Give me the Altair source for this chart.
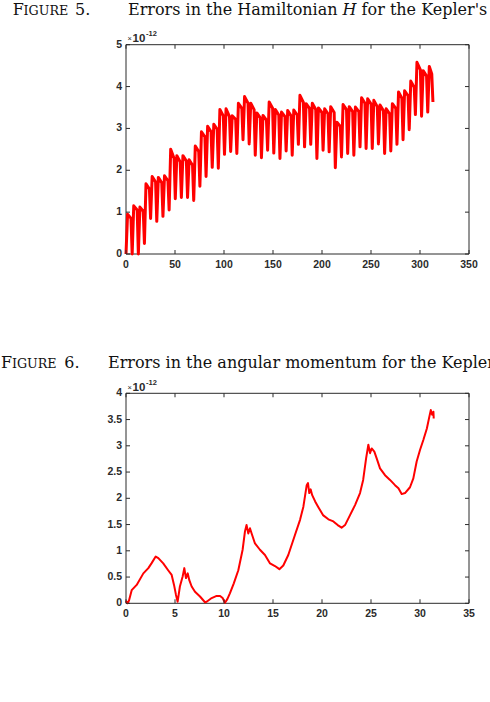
import altair as alt
import pandas as pd

# ---------------- Figure 5: error in the Hamiltonian H ----------------
# times of the sharp minima (one per orbit), first and last sample included
orbit_dip_t = [0.0, 6.3, 12.6, 18.8, 25.1, 31.4, 37.7, 44.0, 50.3, 56.5, 62.8,
               69.1, 75.4, 81.7, 88.0, 94.2, 100.5, 106.8, 113.1, 119.4, 125.7,
               131.9, 138.2, 144.5, 150.8, 157.1, 163.4, 169.6, 175.9, 182.2, 188.5,
               194.8, 201.1, 207.3, 213.6, 219.9, 226.2, 232.5, 238.8, 245.0, 251.3,
               257.6, 263.9, 270.2, 276.5, 282.7, 289.0, 295.3, 301.6, 307.9, 313.2]
# error (units of 1e-12) at each minimum
ham_dip = [0.0, 0.0, 0.0, 0.25, 0.85, 0.78, 0.90, 1.05, 1.32, 1.35, 1.35,
           1.28, 1.62, 1.85, 2.07, 2.05, 2.38, 2.45, 2.40, 2.73, 2.63,
           2.36, 2.30, 2.48, 2.41, 2.28, 2.46, 2.36, 2.62, 2.56, 2.62,
           2.28, 2.48, 2.44, 2.06, 2.32, 2.40, 2.36, 2.56, 2.52, 2.52,
           2.63, 2.40, 2.46, 2.62, 2.73, 2.97, 3.33, 3.29, 3.39, 3.63]
# crest reached just after each minimum
ham_peak = [0.95, 1.15, 1.12, 1.68, 1.85, 1.83, 1.87, 2.50, 2.35, 2.35,
            2.25, 2.58, 2.92, 3.05, 3.10, 3.45, 3.47, 3.30, 3.60, 3.76,
            3.60, 3.37, 3.31, 3.63, 3.45, 3.39, 3.43, 3.44, 3.79, 3.59,
            3.60, 3.49, 3.47, 3.52, 3.15, 3.57, 3.52, 3.51, 3.73, 3.71,
            3.67, 3.56, 3.47, 3.59, 3.87, 3.90, 4.13, 4.58, 4.38, 4.48]
# level just before the next drop
ham_shoulder = [0.85, 1.05, 1.02, 1.55, 1.72, 1.70, 1.75, 2.28, 2.20, 2.22,
                2.12, 2.45, 2.80, 2.92, 2.98, 3.30, 3.28, 3.22, 3.48, 3.60,
                3.45, 3.25, 3.20, 3.48, 3.32, 3.28, 3.30, 3.32, 3.62, 3.48,
                3.45, 3.38, 3.35, 3.38, 3.05, 3.45, 3.40, 3.40, 3.60, 3.58,
                3.52, 3.42, 3.35, 3.48, 3.72, 3.78, 3.98, 4.40, 4.25, 4.30]

ham_xticks = [0, 50, 100, 150, 200, 250, 300, 350]
ham_yticks = [0, 1, 2, 3, 4, 5]

# ---------------- Figure 6: error in the angular momentum ----------------
mom_t = [0.0, 0.15, 0.3, 0.58, 1.09, 1.77, 2.28, 2.6, 3.03, 3.3,
         3.8, 4.3, 4.66, 4.9, 5.1, 5.27, 5.5, 5.78, 5.95, 6.12,
         6.3, 6.46, 6.7, 7.04, 7.55, 8.06, 8.23, 8.74, 9.25, 9.6,
         9.86, 10.1, 10.34, 10.6, 11.0, 11.46, 11.9, 12.14, 12.3, 12.48,
         12.65, 12.82, 13.16, 13.67, 14.18, 14.7, 15.2, 15.65, 16.05, 16.56,
         17.24, 17.76, 18.1, 18.44, 18.57, 18.7, 18.84, 19.0, 19.3, 19.6,
         20.1, 20.65, 21.16, 21.6, 22.0, 22.35, 22.86, 23.37, 23.88, 24.2,
         24.5, 24.73, 24.9, 25.07, 25.34, 25.58, 25.92, 26.43, 26.94, 27.45,
         27.8, 28.13, 28.47, 28.98, 29.32, 29.66, 30.0, 30.34, 30.7, 30.96,
         31.1, 31.24, 31.37, 31.4]
mom_err = [0.05, 0.0, 0.05, 0.25, 0.35, 0.57, 0.67, 0.76, 0.89, 0.86,
           0.76, 0.63, 0.54, 0.35, 0.16, 0.03, 0.32, 0.51, 0.67, 0.48,
           0.57, 0.44, 0.32, 0.22, 0.13, 0.02, 0.03, 0.10, 0.14, 0.14,
           0.10, 0.01, 0.08, 0.19, 0.38, 0.63, 1.02, 1.37, 1.49, 1.33,
           1.43, 1.33, 1.14, 1.02, 0.92, 0.76, 0.71, 0.65, 0.72, 0.92,
           1.30, 1.59, 1.84, 2.25, 2.29, 2.10, 2.17, 2.06, 1.94, 1.84,
           1.68, 1.60, 1.56, 1.49, 1.44, 1.49, 1.68, 1.87, 2.10, 2.35,
           2.76, 3.02, 2.86, 2.95, 2.89, 2.76, 2.57, 2.44, 2.35, 2.25,
           2.19, 2.08, 2.10, 2.21, 2.38, 2.70, 2.92, 3.11, 3.33, 3.56,
           3.68, 3.59, 3.65, 3.52]

mom_xticks = [0, 5, 10, 15, 20, 25, 30, 35]
mom_yticks = [0, 0.5, 1, 1.5, 2, 2.5, 3, 3.5, 4]

# ---------------- geometry & style ----------------
W = 343            # plot width shared by both panels
H = 558.6          # from the top of panel 1 to the bottom of panel 2
TOP_RANGE = [209.3, 0]
BOT_RANGE = [558.6, 348.6]
AXIS = "#2b2b2b"
RED = "#ff0000"
SANS = "Liberation Sans"
SERIF = "DejaVu Serif"

# polyline vertices of the Hamiltonian error: minimum -> crest -> shoulder
ham_t, ham_err = [], []
for k in range(len(ham_peak)):
    t0, t1 = orbit_dip_t[k], orbit_dip_t[k + 1]
    ham_t += [t0, t0 + 1.6, t1 - 1.2]
    ham_err += [ham_dip[k], ham_peak[k], ham_shoulder[k]]
ham_t.append(orbit_dip_t[-1])
ham_err.append(ham_dip[-1])


def panel(xdom, ydom, yrange, xticks, yticks, t, err, width):
    xs = alt.Scale(domain=xdom, range=[0, W], nice=False, zero=False)
    ys = alt.Scale(domain=ydom, range=yrange, nice=False, zero=False)

    def X(f):
        return alt.X(f, type="quantitative", scale=xs, axis=None)

    def Y(f):
        return alt.Y(f, type="quantitative", scale=ys, axis=None)

    frame = pd.DataFrame({"x0": [xdom[0]], "x1": [xdom[1]],
                          "y0": [ydom[0]], "y1": [ydom[1]]})
    xt = pd.DataFrame({"v": xticks, "lo": ydom[0], "hi": ydom[1],
                       "lab": [f"{v:g}" for v in xticks]})
    yt = pd.DataFrame({"v": yticks, "lo": xdom[0], "hi": xdom[1],
                       "lab": [f"{v:g}" for v in yticks]})
    series = pd.DataFrame({"t": t, "err": err})

    box = alt.Chart(frame).mark_rect(fillOpacity=0, stroke=AXIS, strokeWidth=1).encode(
        x=X("x0"), x2=alt.X2("x1"), y=Y("y0"), y2=alt.Y2("y1"))

    tick_style = dict(size=4, thickness=1, color=AXIS, opacity=1)
    xb = alt.Chart(xt).mark_tick(orient="vertical", yOffset=-2, **tick_style).encode(
        x=X("v"), y=Y("lo"))
    xtop = alt.Chart(xt).mark_tick(orient="vertical", yOffset=2, **tick_style).encode(
        x=X("v"), y=Y("hi"))
    yl = alt.Chart(yt).mark_tick(orient="horizontal", xOffset=2, **tick_style).encode(
        x=X("lo"), y=Y("v"))
    yr = alt.Chart(yt).mark_tick(orient="horizontal", xOffset=-2, **tick_style).encode(
        x=X("hi"), y=Y("v"))

    label_style = dict(font=SANS, fontSize=10.5, fontWeight="bold", color=AXIS)
    xlab = alt.Chart(xt).mark_text(align="center", baseline="middle", dy=11,
                                   **label_style).encode(
        x=X("v"), y=Y("lo"), text="lab:N")
    ylab = alt.Chart(yt).mark_text(align="right", baseline="middle", dx=-4,
                                   **label_style).encode(
        x=X("lo"), y=Y("v"), text="lab:N")

    line = alt.Chart(series).mark_line(color=RED, strokeWidth=width,
                                       strokeJoin="round").encode(
        x=X("t"), y=Y("err"))

    return [box, line, xb, xtop, yl, yr, xlab, ylab]


def text(s, x, y, **style):
    return alt.Chart(pd.DataFrame({"s": [s]})).mark_text(
        align="left", baseline="alphabetic", **style).encode(
        x=alt.value(x), y=alt.value(y), text="s:N")


def exponent(y_top):
    return [
        text("×", 1.5, y_top - 3.5, font=SANS, fontSize=7.5, color=AXIS),
        text("10", 6.5, y_top - 2.5, font=SANS, fontSize=11.5, fontWeight="bold", color=AXIS),
        text("-12", 20, y_top - 8.5, font=SANS, fontSize=7.5, fontWeight="bold", color=AXIS),
    ]


caption = dict(font=SERIF, color="#111111")
titles = [
    text("F", -113.3, -29.7, fontSize=16, **caption),
    text("IGURE", -102.4, -29.7, fontSize=12.7, **caption),
    text("5.", -51, -29.7, fontSize=16, **caption),
    text("Errors in the Hamiltonian", 2, -29.7, fontSize=16, **caption),
    text("H", 216.5, -29.7, fontSize=16, fontStyle="italic", **caption),
    text("for the Kepler's", 235.6, -29.7, fontSize=16, **caption),
    text("F", -125, 323.3, fontSize=16, **caption),
    text("IGURE", -114.1, 323.3, fontSize=12.7, **caption),
    text("6.", -61.7, 323.3, fontSize=16, **caption),
    text("Errors in the angular momentum for the Kepler", -18, 323.3,
         fontSize=16, **caption),
]

layers = (
    panel([0, 350], [0, 5], TOP_RANGE, ham_xticks, ham_yticks, ham_t, ham_err, 3)
    + panel([0, 35], [0, 4], BOT_RANGE, mom_xticks, mom_yticks, mom_t, mom_err, 2)
    + exponent(0) + exponent(348.6) + titles
)

chart = alt.layer(*layers).resolve_scale(
    x="independent", y="independent"
).properties(
    width=W,
    height=H,
    autosize=alt.AutoSizeParams(type="none"),
    padding={"left": 126, "top": 44.7, "right": 21, "bottom": 98.7},
    background="white",
).configure_view(strokeOpacity=0)

chart.save("out.html", embed_options={"renderer": "svg", "actions": False})
